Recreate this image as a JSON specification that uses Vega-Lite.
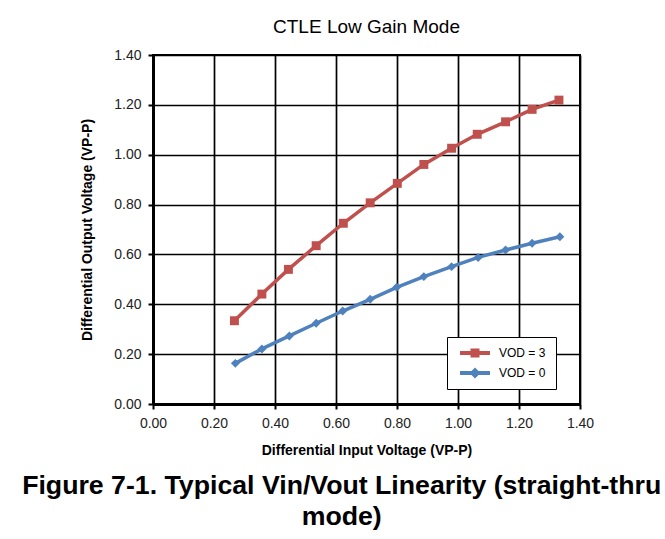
{
  "$schema": "https://vega.github.io/schema/vega-lite/v6.json",
  "padding": {"left": 22, "top": 17, "right": 5, "bottom": 5},
  "background": "white",
  "config": {
    "font": "Liberation Sans",
    "view": {"stroke": "black", "strokeWidth": 2},
    "axis": {
      "domainColor": "black", "domainWidth": 3,
      "grid": true, "gridColor": "black", "gridWidth": 1.7,
      "tickColor": "black", "tickWidth": 2, "tickSize": 5,
      "labelFont": "Liberation Sans", "labelFontSize": 14, "labelColor": "#222",
      "labelFlush": false, "labelOverlap": false,
      "titleFont": "Liberation Sans", "titleFontSize": 14, "titleFontWeight": "bold", "titleColor": "black",
      "format": ".2f"
    }
  },
  "title": {
    "text": ["Figure 7-1. Typical Vin/Vout Linearity (straight-thru", "mode)"],
    "orient": "bottom", "anchor": "middle",
    "font": "Liberation Sans", "fontSize": 26.7, "fontWeight": "bold", "lineHeight": 31,
    "color": "black", "offset": 15, "dx": 4.5
  },
  "vconcat": [
    {
      "title": {"text": "CTLE Low Gain Mode", "fontSize": 19, "fontWeight": "normal", "color": "black", "offset": 11, "anchor": "middle", "font": "Liberation Sans"},
      "width": 427,
      "height": 349,
      "data": {"values": [
        {"series": "VOD = 3", "vin": 0.267, "vout": 0.334},
        {"series": "VOD = 3", "vin": 0.357, "vout": 0.441},
        {"series": "VOD = 3", "vin": 0.444, "vout": 0.540},
        {"series": "VOD = 3", "vin": 0.535, "vout": 0.635},
        {"series": "VOD = 3", "vin": 0.624, "vout": 0.725},
        {"series": "VOD = 3", "vin": 0.712, "vout": 0.807},
        {"series": "VOD = 3", "vin": 0.801, "vout": 0.885},
        {"series": "VOD = 3", "vin": 0.888, "vout": 0.961},
        {"series": "VOD = 3", "vin": 0.979, "vout": 1.026},
        {"series": "VOD = 3", "vin": 1.063, "vout": 1.082},
        {"series": "VOD = 3", "vin": 1.156, "vout": 1.132},
        {"series": "VOD = 3", "vin": 1.243, "vout": 1.182},
        {"series": "VOD = 3", "vin": 1.331, "vout": 1.219},
        {"series": "VOD = 0", "vin": 0.270, "vout": 0.163},
        {"series": "VOD = 0", "vin": 0.357, "vout": 0.221},
        {"series": "VOD = 0", "vin": 0.447, "vout": 0.273},
        {"series": "VOD = 0", "vin": 0.535, "vout": 0.324},
        {"series": "VOD = 0", "vin": 0.622, "vout": 0.373},
        {"series": "VOD = 0", "vin": 0.712, "vout": 0.420},
        {"series": "VOD = 0", "vin": 0.799, "vout": 0.468},
        {"series": "VOD = 0", "vin": 0.888, "vout": 0.511},
        {"series": "VOD = 0", "vin": 0.979, "vout": 0.551},
        {"series": "VOD = 0", "vin": 1.066, "vout": 0.588},
        {"series": "VOD = 0", "vin": 1.156, "vout": 0.618},
        {"series": "VOD = 0", "vin": 1.243, "vout": 0.645},
        {"series": "VOD = 0", "vin": 1.334, "vout": 0.671}
      ]},
      "encoding": {
        "x": {"field": "vin", "type": "quantitative",
              "scale": {"domain": [0, 1.4], "nice": false},
              "axis": {"values": [0, 0.2, 0.4, 0.6, 0.8, 1.0, 1.2, 1.4], "title": "Differential Input Voltage (VP-P)", "labelPadding": 7, "titlePadding": 13}},
        "y": {"field": "vout", "type": "quantitative",
              "scale": {"domain": [0, 1.4], "nice": false},
              "axis": {"values": [0, 0.2, 0.4, 0.6, 0.8, 1.0, 1.2, 1.4], "title": "Differential Output Voltage (VP-P)", "labelPadding": 7, "titlePadding": 19}},
        "color": {"field": "series", "type": "nominal",
                  "scale": {"domain": ["VOD = 3", "VOD = 0"], "range": ["#C0504D", "#4F81BD"]},
                  "legend": {
                    "title": null, "orient": "none", "legendX": 294, "legendY": 282,
                    "strokeColor": "black", "fillColor": "white", "padding": 10,
                    "labelFontSize": 12, "labelColor": "black", "labelFont": "Liberation Sans",
                    "symbolSize": 64, "labelOffset": 18, "symbolOffset": 12, "rowPadding": 8,
                    "symbolStrokeWidth": 0, "symbolOpacity": 1,
                    "encode": {"symbols": {"update": {
                      "shape": {"signal": "datum.value === 'VOD = 3' ? 'M-3.75,-0.5H3.75V0.5H-3.75Z M-1.125,-1.125H1.125V1.125H-1.125Z' : 'M-3.75,-0.5H3.75V0.5H-3.75Z M0,-1.375L1.375,0L0,1.375L-1.375,0Z'"},
                      "fill": {"scale": "color", "field": "value"},
                      "strokeWidth": {"value": 0}
                    }}}
                  }}
      },
      "layer": [
        {"mark": {"type": "line", "strokeWidth": 3.5}},
        {"transform": [{"filter": "datum.series === 'VOD = 3'"}],
         "mark": {"type": "point", "shape": "square", "filled": true, "opacity": 1, "size": 80}},
        {"transform": [{"filter": "datum.series === 'VOD = 0'"}],
         "mark": {"type": "point", "shape": "diamond", "filled": true, "opacity": 1, "size": 80}}
      ]
    }
  ]
}
